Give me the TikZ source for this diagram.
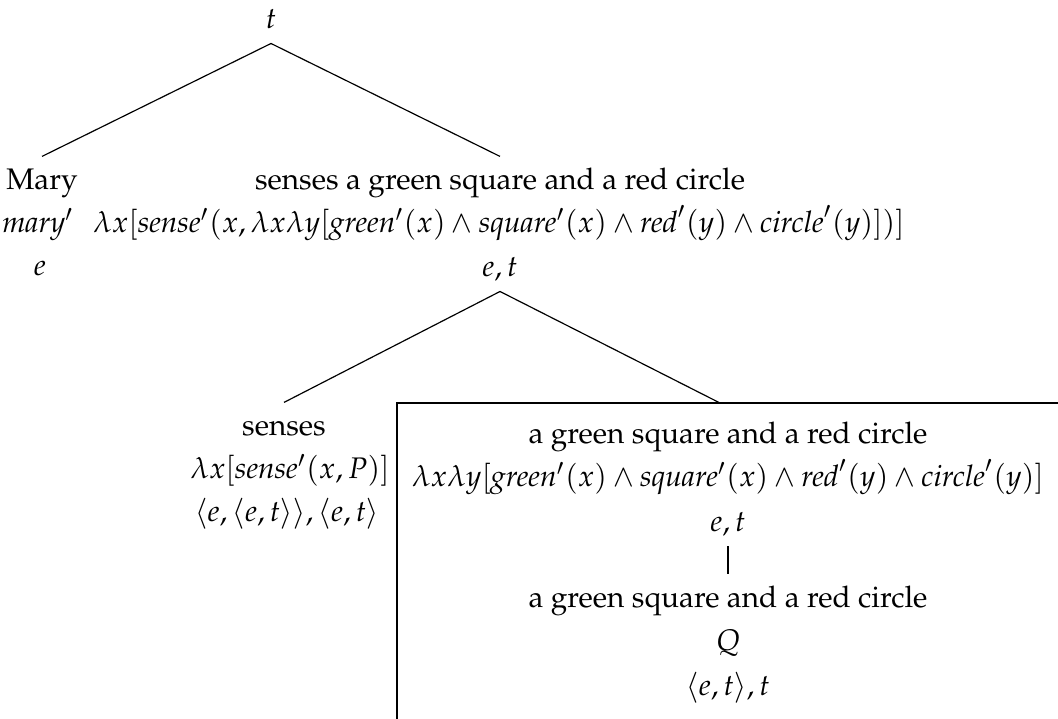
\documentclass[tikz,border=0pt]{standalone}
\usepackage[T1]{fontenc}
\usepackage{mathpazo}
\usepackage{amsmath}
\usepackage{tikz}

\begin{document}
\begin{tikzpicture}[
    x=0.336pt, y=-0.336pt,
    word/.style={anchor=base, inner sep=0pt, text height=10.75pt, text depth=5pt},
    branch/.style={line width=0.4pt},
    frame/.style={line width=0.4pt}
]
    \useasboundingbox (0,0) rectangle (1058,719);

    % Root
    \node[word] (root) at (271,28) {$t$};

    % Subject
    \node[word] (maryW) at (42,189) {Mary};
    \node[word] (maryS) at (38,232) {$\mathit{mary}'$};
    \node[word] (maryT) at (40,275) {$e$};

    % Verb phrase
    \node[word] (vpW) at (500,189) {senses a green square and a red circle};
    \node[word] (vpS) at (499,232) {$\lambda x[\mathit{sense}'(x,\lambda x\lambda y[\mathit{green}'(x)\wedge\mathit{square}'(x)\wedge\mathit{red}'(y)\wedge\mathit{circle}'(y)])]$};
    \node[word] (vpT) at (500,276) {$e,t$};

    % Verb
    \node[word] (vW) at (284,435) {senses};
    \node[word] (vS) at (290,478) {$\lambda x[\mathit{sense}'(x,P)]$};
    \node[word] (vT) at (287,521) {$\langle e,\langle e,t\rangle\rangle,\langle e,t\rangle$};

    % Object (boxed)
    \node[word] (npW) at (728,443) {a green square and a red circle};
    \node[word] (npS) at (728,486) {$\lambda x\lambda y[\mathit{green}'(x)\wedge\mathit{square}'(x)\wedge\mathit{red}'(y)\wedge\mathit{circle}'(y)]$};
    \node[word] (npT) at (728,531) {$e,t$};
    \node[word] (qW) at (728,607) {a green square and a red circle};
    \node[word] (qS) at (728,650) {$Q$};
    \node[word] (qT) at (728,695) {$\langle e,t\rangle,t$};

    % Box
    \coordinate (boxNW) at (397,403);
    \coordinate (boxTop) at (720,403);
    \draw[frame] (boxNW) rectangle (1100,760);

    % Branches
    \draw[branch] (root.south) -- (maryW.north);
    \draw[branch] (root.south) -- (vpW.north);
    \draw[branch] (vpT.south) -- (vW.north);
    \draw[branch] (vpT.south) -- (boxTop);
    \draw[branch] (npT.south) -- (qW.north);
\end{tikzpicture}
\end{document}
